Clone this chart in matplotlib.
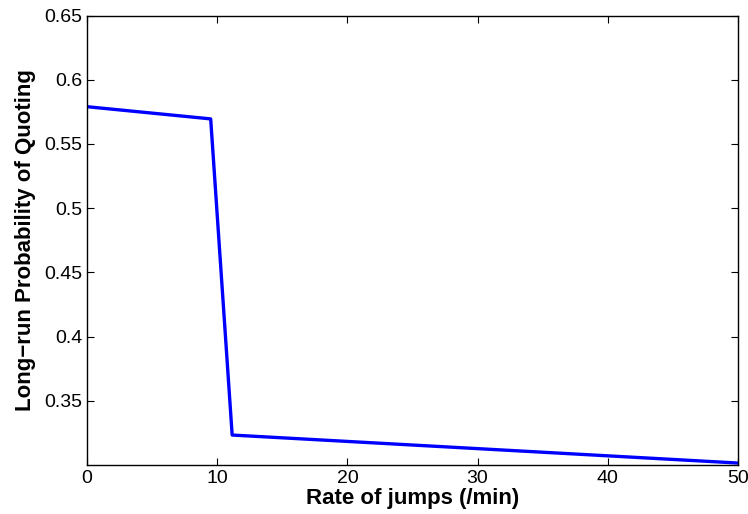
import matplotlib
matplotlib.use("Agg")
import matplotlib.pyplot as plt
import numpy as np

plt.rcParams["font.family"] = ["Liberation Sans", "DejaVu Sans"]

rate = [0, 9.5, 11.15, 50]
prob = [0.579, 0.5695, 0.3233, 0.3015]

x_ticks = [0, 10, 20, 30, 40, 50]
y_ticks = [0.35, 0.4, 0.45, 0.5, 0.55, 0.6, 0.65]


def main():
    fig = plt.figure(figsize=(7.48, 5.14), dpi=100)
    ax = fig.add_axes([0.1163, 0.0959, 0.8703, 0.8739])
    ax.plot(rate, prob, color="#0000ff", lw=2.4)
    ax.set_xlim(0, 50)
    ax.set_ylim(0.3002, 0.65)
    ax.set_xticks(x_ticks)
    ax.set_yticks(y_ticks)
    ax.set_yticklabels(["%g" % v for v in y_ticks])
    ax.tick_params(direction="in", top=True, right=True, labelsize=14, length=5, width=0.8)
    for s in ax.spines.values():
        s.set_linewidth(1.0)
    ax.set_xlabel("Rate of jumps (/min)", fontsize=16, fontweight="bold", labelpad=1)
    ax.set_ylabel("Long\u2212run Probability of Quoting", fontsize=16, fontweight="bold", labelpad=6)
    fig.savefig("out.png")
    plt.close(fig)


if __name__ == "__main__":
    main()
